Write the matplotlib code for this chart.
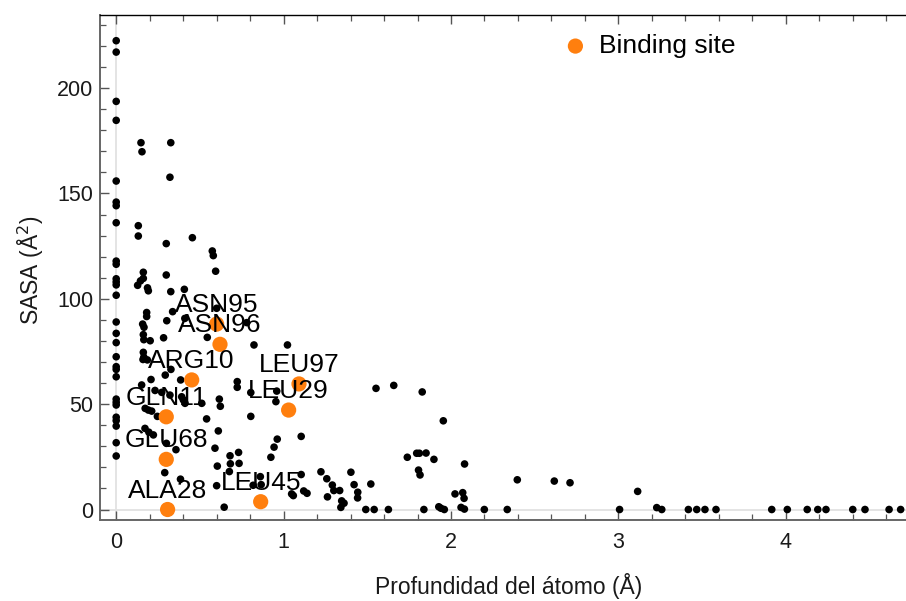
import matplotlib
matplotlib.use("Agg")
import matplotlib.pyplot as plt
from matplotlib.ticker import MultipleLocator

plt.rcParams['font.family'] = ['Liberation Sans', 'DejaVu Sans']

# ---- data: all residues (depth in Å, SASA in Å^2) ----
depth_all = [
    0, 0, 0, 0, 0, 0, 0, 0, 0, 0, 0, 0, 0, 0, 0, 0, 0, 0, 0, 0, 0, 0, 0, 0, 0, 0, 0, 0, 0,
    0.148, 0.154, 0.326, 0.321, 0.132, 0.132, 0.455, 0.299, 0.574, 0.580, 0.594,
    0.162, 0.162, 0.145, 0.299, 0.128, 0.187, 0.192, 0.326, 0.407,
    0.182, 0.182, 0.337, 0.302, 0.158, 0.166, 0.162, 0.165, 0.203, 0.283, 0.544,
    0.162, 0.165, 0.160, 0.186, 0.327, 0.293, 0.208, 0.385, 0.152,
    0.232, 0.272, 0.321, 0.391, 0.401, 0.411, 0.511, 0.173, 0.192, 0.212, 0.246,
    0.540, 0.616, 0.622, 0.723, 0.723, 0.804, 0.959, 0.954, 0.804, 0.823, 1.023,
    1.105, 0.962, 0.943, 0.924, 0.680, 0.682, 0.734, 0.731, 0.676,
    0.604, 0.600, 0.590, 0.610, 0.172, 0.195, 0.222, 0.300, 0.357, 0.290, 0.384,
    0.645, 0.861, 0.866, 0.818, 1.105, 1.048, 1.058, 1.120, 1.140,
    1.223, 1.258, 1.291, 1.300, 1.335, 1.262, 1.347, 1.361, 1.342,
    1.402, 1.421, 1.443, 1.442, 1.491, 1.541, 1.626, 1.521,
    1.552, 1.658, 1.828, 1.954, 1.739, 1.795, 1.811, 1.851, 1.898, 1.806, 1.815,
    2.081, 1.838, 1.927, 1.940, 1.960, 2.024, 2.070, 2.078, 2.060, 2.080,
    2.199, 2.336, 2.396, 2.617, 2.711,
    3.007, 3.115, 3.229, 3.259, 3.418, 3.468, 3.517, 3.583,
    3.916, 4.009, 4.128, 4.191, 4.240, 4.400, 4.473, 4.617, 4.686,
    0.410, 0.780, 0.600,
]
sasa_all = [
    222.5, 217.1, 193.7, 184.7, 155.9, 145.9, 144.2, 136.1, 117.9, 116.4, 109.5, 108.0, 106.6, 101.7,
    89.0, 83.6, 79.2, 72.5, 67.8, 66.5, 63.0, 52.4, 50.9, 49.6, 43.8, 42.2, 39.6, 31.7, 25.4,
    174.1, 169.8, 174.1, 157.7, 134.7, 129.8, 129.0, 126.2, 122.7, 120.5, 113.1,
    112.6, 109.7, 108.5, 111.3, 106.4, 105.2, 103.8, 103.4, 104.5,
    93.5, 91.6, 93.9, 89.6, 88.0, 86.5, 83.0, 80.6, 80.1, 81.5, 81.7,
    74.6, 72.3, 71.2, 71.0, 66.5, 63.8, 61.7, 61.5, 59.1,
    56.5, 55.6, 54.3, 53.5, 52.0, 50.4, 50.4, 48.0, 47.2, 46.7, 44.2,
    43.0, 52.4, 49.0, 60.7, 58.0, 55.5, 56.2, 51.2, 44.2, 78.1, 78.1,
    34.7, 33.4, 29.6, 24.8, 25.5, 21.7, 21.9, 27.1, 18.0,
    20.6, 11.3, 29.1, 37.3, 38.5, 36.7, 35.4, 31.4, 28.4, 17.5, 14.4,
    1.1, 15.6, 11.8, 11.5, 16.6, 7.4, 6.6, 8.8, 7.7,
    17.9, 14.6, 11.6, 9.0, 9.0, 6.0, 4.1, 3.0, 1.0,
    17.7, 11.8, 8.2, 5.5, 0.0, 0.0, 0.0, 12.1,
    57.5, 58.9, 55.8, 42.1, 24.8, 26.7, 26.7, 26.8, 23.8, 18.7, 16.4,
    21.6, 0.0, 1.3, 0.6, 0.0, 7.4, 8.0, 5.3, 1.0, 0.2,
    0.0, 0.0, 14.1, 13.5, 12.7,
    0.0, 8.6, 0.9, 0.0, 0.0, 0.0, 0.0, 0.0,
    0.0, 0.0, 0.0, 0.0, 0.0, 0.0, 0.0, 0.0, 0.0,
    90.7, 88.7, 95.5,
]

# ---- binding-site residues ----
site_names = ["ASN95", "ASN96", "ARG10", "LEU97", "LEU29", "GLN11", "GLU68", "ALA28", "LEU45"]
site_depth = [0.600, 0.620, 0.451, 1.092, 1.030, 0.299, 0.299, 0.307, 0.863]
site_sasa = [88.0, 78.4, 61.5, 59.6, 47.2, 44.0, 23.8, 0.0, 3.7]

x_ticks = [0, 1, 2, 3, 4]
y_ticks = [0, 50, 100, 150, 200]

ORANGE = "#ff7f0e"

fig = plt.figure(figsize=(9.06, 6.01), dpi=100)
ax = fig.add_axes([100 / 906, 81 / 601, 806 / 906, 505 / 601])

ax.axhline(0, color="#e2e2e2", lw=1.3, zorder=0)
ax.axvline(0, color="#e2e2e2", lw=1.3, zorder=0)

ax.scatter(depth_all, sasa_all, s=30, color="black", edgecolors="none", zorder=2)
ax.scatter(site_depth, site_sasa, s=120, color=ORANGE, edgecolors="none", zorder=3,
           label="Binding site")

for name, xv, yv in zip(site_names, site_depth, site_sasa):
    ax.annotate(name, (xv, yv), xytext=(0, 8.6), textcoords="offset points",
                ha="center", va="baseline", fontsize=19, color="black", zorder=4)

ax.set_xlim(-0.0968, 4.718)
ax.set_ylim(-4.98, 234.7)

ax.set_xticks(x_ticks)
ax.set_yticks(y_ticks)
ax.xaxis.set_minor_locator(MultipleLocator(0.2))
ax.yaxis.set_minor_locator(MultipleLocator(10))

ax.tick_params(axis="x", which="both", direction="in", top=True, bottom=True,
               labeltop=False, colors="#555555", labelcolor="#1a1a1a", labelsize=15.5, pad=9)
ax.tick_params(axis="y", which="both", direction="in", left=True, right=False,
               colors="#555555", labelcolor="#1a1a1a", labelsize=15.5, pad=5)
ax.tick_params(which="major", length=6.5, width=1.0)
ax.tick_params(which="minor", length=4, width=0.9)

ax.spines["right"].set_visible(False)
ax.spines["top"].set_color("black")
ax.spines["top"].set_linewidth(1.0)
for side in ("left", "bottom"):
    ax.spines[side].set_color("#666666")
    ax.spines[side].set_linewidth(1.4)

ax.set_xlabel("Profundidad del átomo (Å)", fontsize=16.5, color="#1a1a1a")
ax.xaxis.set_label_coords(0.507, -0.105)
ax.set_ylabel("SASA (Å$^2$)", fontsize=16.5, color="#1a1a1a")
ax.yaxis.set_label_coords(-0.0665, 0.495)

ax.legend(loc="center left", bbox_to_anchor=(0.544, 0.9386), frameon=False,
          fontsize=19, handlelength=1.0, handletextpad=0.4, borderpad=0.4,
          scatterpoints=1)

fig.savefig("out.png", dpi=100)
